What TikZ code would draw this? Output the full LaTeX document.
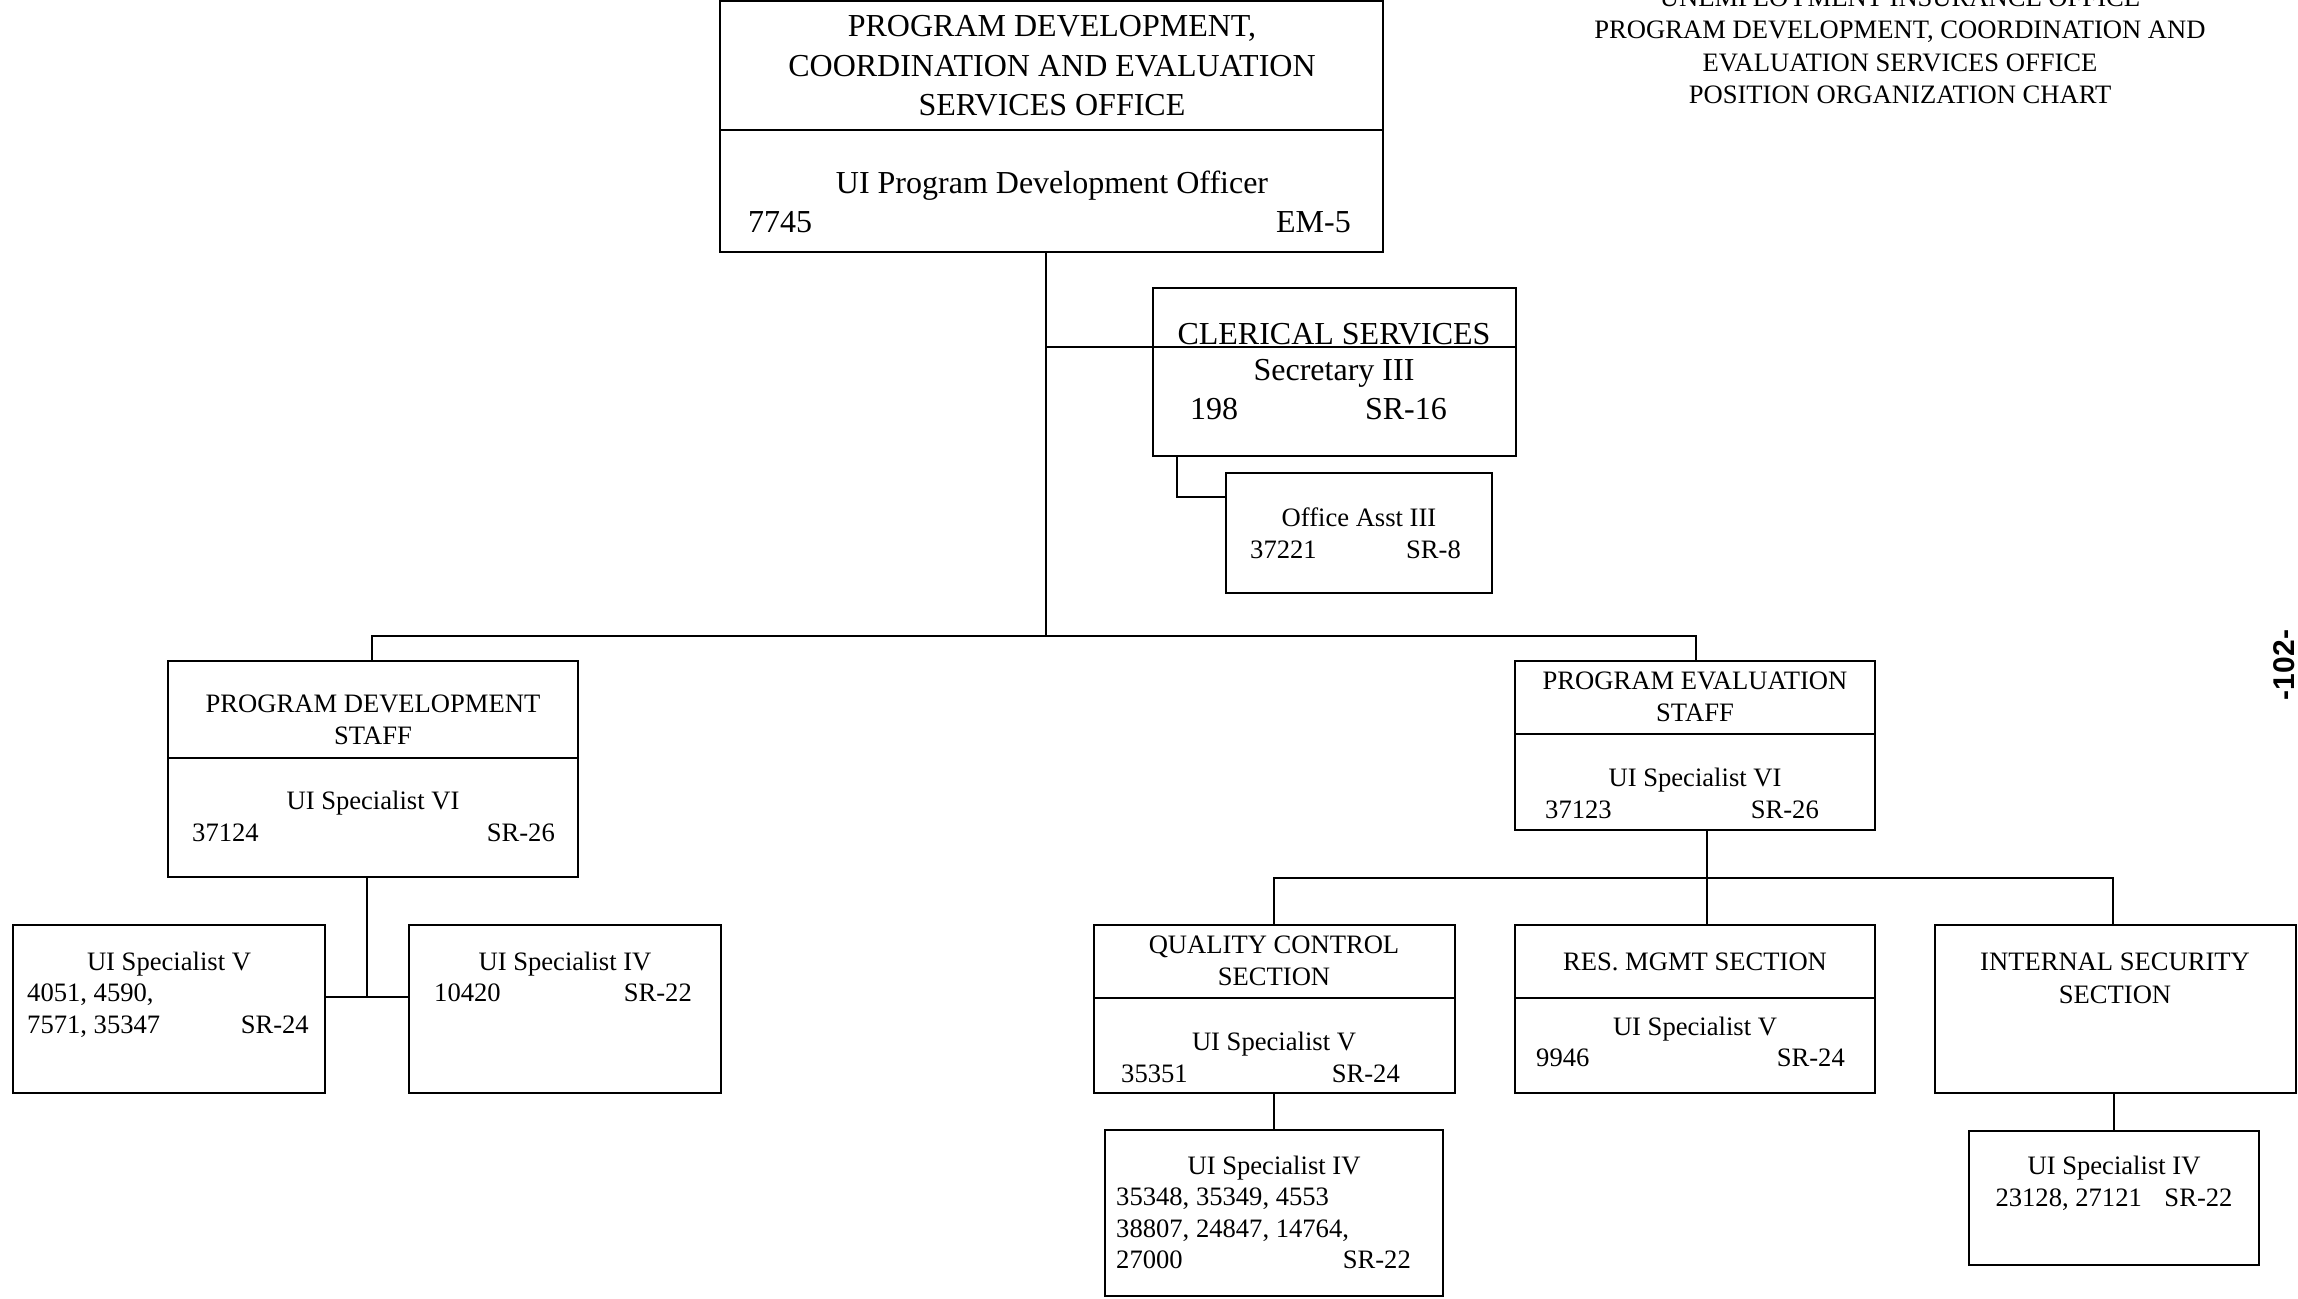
\documentclass[tikz,border=0pt]{standalone}
\usepackage{fontspec}
\setmainfont{Liberation Serif}
\newfontfamily\pgnumfont{Liberation Sans}
\usetikzlibrary{fit}
\begin{document}
\begin{tikzpicture}[x=1pt,y=-1pt,
  box/.style={draw=black, line width=2.6pt, inner sep=0pt},
  divline/.style={line width=2pt},
  conn/.style={line width=2pt},
  txt/.style={inner sep=0pt, anchor=base, font=\fontsize{26.6}{32}\selectfont},
  txtl/.style={txt, anchor=base west},
  txtr/.style={txt, anchor=base east},
  big/.style={inner sep=0pt, anchor=base, font=\fontsize{32}{38}\selectfont},
  bigl/.style={big, anchor=base west},
  bigr/.style={big, anchor=base east}]
\useasboundingbox[fill=white] (0,0) rectangle (2298,1298);

% title
\node[txt] (ti1) at (1900,7) {UNEMPLOYMENT INSURANCE OFFICE};
\node[txt] (ti2) at (1900,39) {PROGRAM DEVELOPMENT, COORDINATION AND};
\node[txt] (ti3) at (1900,71) {EVALUATION SERVICES OFFICE};
\node[txt] (ti4) at (1900,103) {POSITION ORGANIZATION CHART};
\node[rotate=90, inner sep=0pt, font=\pgnumfont\bfseries\fontsize{30}{30}\selectfont] (pg) at (2284,665) {-102-};

% top box
\node[box, fit={(720,1) (1383,252)}] (top) {};
\draw[divline] (720,130) -- (1383,130);
\node[big] (top1) at (1052,37) {PROGRAM DEVELOPMENT,};
\node[big] (top2) at (1052,76) {COORDINATION AND EVALUATION};
\node[big] (top3) at (1052,115) {SERVICES OFFICE};
\node[big] (top4) at (1052,193) {UI Program Development Officer};
\node[bigl] (top5) at (748,232) {7745};
\node[bigr] (top6) at (1351,232) {EM-5};

% clerical
\node[box, fit={(1153,288) (1516,456)}] (cler) {};
\draw[divline] (1153,347) -- (1516,347);
\node[big] (cl1) at (1334,344) {CLERICAL SERVICES};
\node[big] (cl2) at (1334,380) {Secretary III};
\node[bigl] (cl3) at (1190,419) {198};
\node[bigr] (cl4) at (1447,419) {SR-16};

% office asst
\node[box, fit={(1226,473) (1492,593)}] (off) {};
\node[txt] (of1) at (1359,526) {Office Asst III};
\node[txtl] (of2) at (1250,558) {37221};
\node[txtr] (of3) at (1461,558) {SR-8};

% program development staff
\node[box, fit={(168,661) (578,877)}] (pds) {};
\draw[divline] (168,758) -- (578,758);
\node[txt] (pd1) at (373,712) {PROGRAM DEVELOPMENT};
\node[txt] (pd2) at (373,744) {STAFF};
\node[txt] (pd3) at (373,809) {UI Specialist VI};
\node[txtl] (pd4) at (192,841) {37124};
\node[txtr] (pd5) at (555,841) {SR-26};

% left specialist V
\node[box, fit={(13,925) (325,1093)}] (lv) {};
\node[txt] (lv1) at (169,970) {UI Specialist V};
\node[txtl] (lv2) at (27,1001) {4051, 4590,};
\node[txtl] (lv3) at (27,1033) {7571, 35347};
\node[txtr] (lv4) at (309,1033) {SR-24};

% left specialist IV
\node[box, fit={(409,925) (721,1093)}] (liv) {};
\node[txt] (li1) at (565,970) {UI Specialist IV};
\node[txtl] (li2) at (434,1001) {10420};
\node[txtr] (li3) at (692,1001) {SR-22};

% program evaluation staff
\node[box, fit={(1515,661) (1875,830)}] (pes) {};
\draw[divline] (1515,734) -- (1875,734);
\node[txt] (pe1) at (1695,689) {PROGRAM EVALUATION};
\node[txt] (pe2) at (1695,721) {STAFF};
\node[txt] (pe3) at (1695,786) {UI Specialist VI};
\node[txtl] (pe4) at (1545,818) {37123};
\node[txtr] (pe5) at (1819,818) {SR-26};

% quality control
\node[box, fit={(1094,925) (1455,1093)}] (qc) {};
\draw[divline] (1094,998) -- (1455,998);
\node[txt] (qc1) at (1274,953) {QUALITY CONTROL};
\node[txt] (qc2) at (1274,985) {SECTION};
\node[txt] (qc3) at (1274,1050) {UI Specialist V};
\node[txtl] (qc4) at (1121,1082) {35351};
\node[txtr] (qc5) at (1400,1082) {SR-24};

% res mgmt
\node[box, fit={(1515,925) (1875,1093)}] (res) {};
\draw[divline] (1515,998) -- (1875,998);
\node[txt] (rm1) at (1695,970) {RES. MGMT SECTION};
\node[txt] (rm2) at (1695,1035) {UI Specialist V};
\node[txtl] (rm3) at (1536,1066) {9946};
\node[txtr] (rm4) at (1845,1066) {SR-24};

% internal security
\node[box, fit={(1935,925) (2296,1093)}] (is) {};
\node[txt] (is1) at (2115,970) {INTERNAL SECURITY};
\node[txt] (is2) at (2115,1003) {SECTION};

% QC sub
\node[box, fit={(1105,1130) (1443,1296)}] (qcs) {};
\node[txt] (qs1) at (1274,1174) {UI Specialist IV};
\node[txtl] (qs2) at (1116,1205) {35348, 35349, 4553};
\node[txtl] (qs3) at (1116,1237) {38807, 24847, 14764,};
\node[txtl] (qs4) at (1116,1268) {27000};
\node[txtr] (qs5) at (1411,1268) {SR-22};

% IS sub
\node[box, fit={(1969,1131) (2259,1265)}] (iss) {};
\node[txt] (ss1) at (2114,1174) {UI Specialist IV};
\node[txt] (ss2) at (2114,1206) {23128, 27121\hspace{0.85em}SR-22};

% connectors
\coordinate (j1) at (1046,636);
\coordinate (jc) at (1046,347);
\coordinate (jo) at (1177,497);
\coordinate (bl) at (372,636);
\coordinate (br) at (1696,636);
\coordinate (jl) at (367,997);
\coordinate (jp) at (1707,878);
\coordinate (qj) at (1274,878);
\coordinate (ij) at (2113,878);

\draw[conn] (top.south -| j1) -- (j1);
\draw[conn] (jc) -- (cler.west |- jc);
\draw[conn] (cler.south -| jo) -- (jo) -- (off.west |- jo);
\draw[conn] (pds.north -| bl) -- (bl) -- (br) -- (pes.north -| br);
\draw[conn] (pds.south -| jl) -- (jl);
\draw[conn] (lv.east |- jl) -- (liv.west |- jl);
\draw[conn] (pes.south -| jp) -- (res.north -| jp);
\draw[conn] (qc.north -| qj) -- (qj) -- (ij) -- (is.north -| ij);
\draw[conn] (qc.south -| qcs.north) -- (qcs.north);
\draw[conn] (is.south -| iss.north) -- (iss.north);
\end{tikzpicture}
\end{document}
